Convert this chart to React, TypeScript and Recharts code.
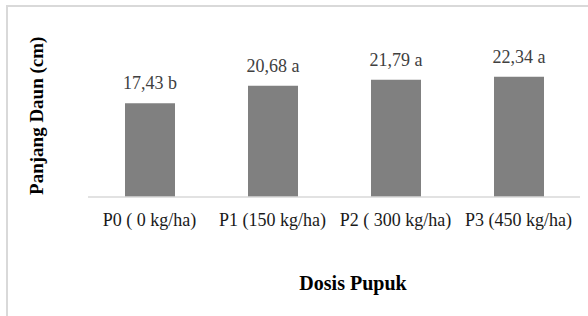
import React from 'react';
import { BarChart, Bar, XAxis, YAxis, LabelList, Label } from 'recharts';

const categories = ['P0 ( 0 kg/ha)', 'P1 (150 kg/ha)', 'P2 ( 300 kg/ha)', 'P3 (450 kg/ha)'];
const panjangDaun = [17.43, 20.68, 21.79, 22.34];
const notasi = ['b', 'a', 'a', 'a'];

const data = categories.map((name, i) => ({
  name,
  value: panjangDaun[i],
  label: `${panjangDaun[i].toFixed(2).replace('.', ',')} ${notasi[i]}`,
}));

const font = 'Liberation Serif';

// axis titles, placed off the axis viewBox
const YTitle = (props: any) => {
  const vb = props.viewBox;
  const x = vb.x + 43;
  const y = vb.y + vb.height / 2 - 14;
  return (
    <text x={x} y={y} transform={`rotate(-90, ${x}, ${y})`} textAnchor="middle"
      style={{ fontFamily: font }} fontSize={19} fontWeight="bold" fill="#000">
      Panjang Daun (cm)
    </text>
  );
};

const XTitle = (props: any) => {
  const vb = props.viewBox;
  return (
    <text x={vb.x + vb.width / 2 + 19} y={vb.y + 93} textAnchor="middle"
      style={{ fontFamily: font }} fontSize={20} fontWeight="bold" fill="#000">
      Dosis Pupuk
    </text>
  );
};

export default function App() {
  return (
    <div style={{ position: 'absolute', left: 0, top: 0, width: 588, height: 316, overflow: 'hidden', background: '#fff', fontFamily: font }}>
      <div style={{ position: 'absolute', left: 6, top: 5, width: 700, height: 400, borderTop: '2px solid #d9d9d9', borderLeft: '2px solid #d9d9d9' }} />
      <div style={{ position: 'absolute', left: 0, top: 0 }}>
        <BarChart width={588} height={316} data={data} margin={{ top: 62.5, right: 8, left: 0, bottom: 0 }}>
          <XAxis
            dataKey="name"
            height={119}
            tickLine={false}
            tickSize={6}
            tickMargin={10}
            axisLine={{ stroke: '#d9d9d9', strokeWidth: 1.5 }}
            tick={{ fill: '#1a1a1a', fontSize: 18, style: { fontFamily: font } }}
            interval={0}
          >
            <Label content={XTitle} />
          </XAxis>
          <YAxis width={88} domain={[0, 25]} tick={false} axisLine={false} tickLine={false}>
            <Label content={YTitle} />
          </YAxis>
          <Bar dataKey="value" fill="#808080" barSize={50} isAnimationActive={false}>
            <LabelList dataKey="label" position="top" offset={14} fill="#404040" fontSize={18} style={{ fontFamily: font }} />
          </Bar>
        </BarChart>
      </div>
    </div>
  );
}
